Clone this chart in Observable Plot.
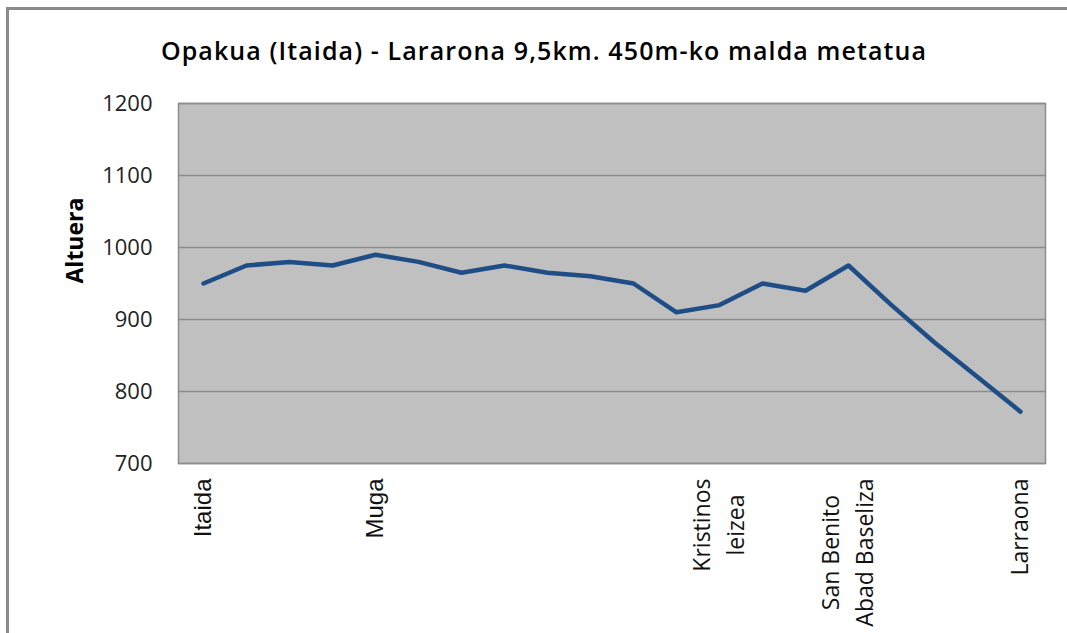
<!DOCTYPE html>
<html>
<head>
<meta charset="utf-8">
<script src="https://cdn.jsdelivr.net/npm/d3@7"></script>
<script src="https://cdn.jsdelivr.net/npm/@observablehq/plot@0.6"></script>
<style>
  html, body { margin: 0; padding: 0; background: #fff; }
  #wrap { position: relative; width: 1067px; height: 633px; overflow: hidden; background: #fff; }
  #border { position: absolute; left: 6px; top: 7px; width: 1200px; height: 800px;
            border-left: 3px solid #8a8a8a; border-top: 3px solid #8a8a8a; }
  #title { position: absolute; left: 0; width: 1088px; top: 38px; text-align: center;
           font-family: "Open Sans", sans-serif; font-weight: 600; font-size: 25px; line-height: 24px;
           letter-spacing: 1.1px; color: #000; }
  #chart { position: absolute; left: 0; top: 0; }
</style>
</head>
<body>
<div id="wrap">
  <div id="border"></div>
  <div id="chart"></div>
  <div id="title"></div>
</div>
<script>
// ---- data ----
const titleText = "Opakua (Itaida) - Lararona 9,5km. 450m-ko malda metatua";
const yLabel = "Altuera";
const points = [0, 1, 2, 3, 4, 5, 6, 7, 8, 9, 10, 11, 12, 13, 14, 15, 16, 17, 18, 19];
const altitude = [950, 975, 980, 975, 990, 980, 965, 975, 965, 960, 950, 910, 920, 950, 940, 975, 920, 868, 820, 772];
const labelPoints = [0, 4, 12, 15, 19];
const labelTexts = ["Itaida", "Muga", "Kristinos\nleizea", "San Benito\nAbad Baseliza", "Larraona"];
const yTicks = [700, 800, 900, 1000, 1100, 1200];
const yDomain = [700, 1200];

document.getElementById("title").textContent = titleText;

// ---- styling ----
const calibriLike = "'Open Sans', sans-serif";
const arialLike = "'Liberation Sans', Arial, sans-serif";
const labelFontFor = (t) => (t === "Itaida" || t === "Muga") ? arialLike : calibriLike;
const labelSizeFor = (t) => (t === "Itaida" || t === "Muga") ? 24 : 23;

const rows = points.map((p, i) => ({p, alt: altitude[i]}));

const ctx = document.createElement("canvas").getContext("2d");
function measure(text, size, family) {
  ctx.font = `${size}px ${family}`;
  return ctx.measureText(text).width;
}

const labelMarks = [];
labelPoints.forEach((p, j) => {
  const text = labelTexts[j];
  const lines = text.split("\n");
  const fam = labelFontFor(text);
  const size = labelSizeFor(text);
  const maxW = d3.max(lines, l => measure(l, size, fam));
  const lineSpacing = 34;
  lines.forEach((line, k) => {
    labelMarks.push(Plot.text([{p, line}], {
      x: "p", text: "line",
      frameAnchor: "bottom",
      dy: 15 + maxW / 2,
      dx: (k - (lines.length - 1) / 2) * lineSpacing,
      rotate: -90,
      textAnchor: "middle",
      lineAnchor: "middle",
      fontSize: size,
      fontFamily: fam,
      fill: "#111"
    }));
  });
});

const chart = Plot.plot({
  width: 1067,
  height: 633,
  marginLeft: 178,
  marginRight: 22,
  marginTop: 103,
  marginBottom: 170,
  style: {background: "transparent", fontFamily: calibriLike},
  x: {type: "point", domain: points, padding: 0.5, axis: null},
  y: {domain: yDomain, axis: null},
  marks: [
    Plot.frame({fill: "#c0c0c0"}),
    Plot.ruleY(yTicks, {stroke: "#8c8c8c", strokeWidth: 1.5}),
    Plot.frame({stroke: "#8c8c8c", strokeWidth: 1.5}),
    Plot.axisY(yTicks, {tickSize: 0, tickPadding: 26, fontSize: 22, fontFamily: calibriLike, fill: "#222", label: null, tickFormat: d => String(d)}),
    Plot.text([yLabel], {frameAnchor: "left", dx: -103, rotate: -90, fontSize: 23, fontWeight: "bold", fontFamily: calibriLike, fill: "#000"}),
    Plot.line(rows, {x: "p", y: "alt", stroke: "#1f4e87", strokeWidth: 4.5, strokeLinejoin: "round", strokeLinecap: "round"}),
    ...labelMarks
  ]
});
document.getElementById("chart").appendChild(chart);
</script>
</body>
</html>
